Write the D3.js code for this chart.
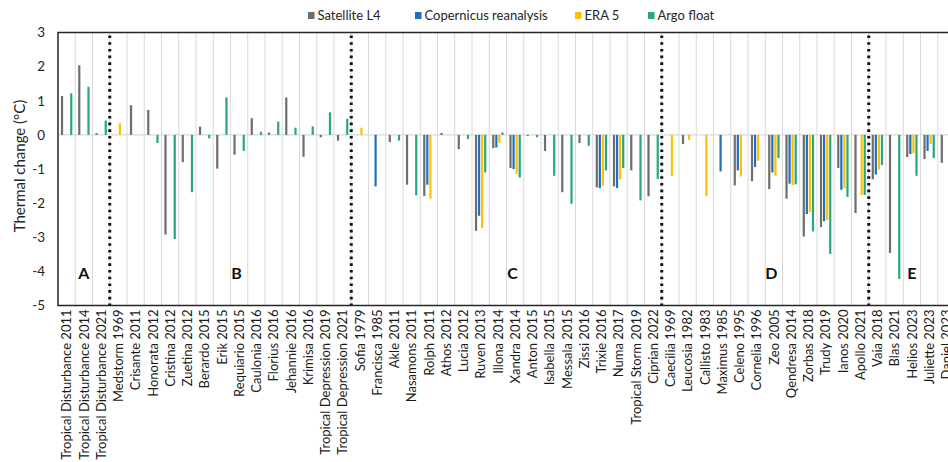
<!DOCTYPE html>
<html>
<head>
<meta charset="utf-8">
<script src="https://cdn.jsdelivr.net/npm/d3@7"></script>
<style>
  html, body { margin: 0; padding: 0; background: #fff; }
  svg { display: block; font-family: Lato, "Open Sans", sans-serif; }
</style>
</head>
<body>
<svg id="chart" width="948" height="462"></svg>
<script>
// Storm events, grouped by region (A–E)
const categories = [
  "Tropical Disturbance 2011", "Tropical Disturbance 2014", "Tropical Disturbance 2021",
  "Medstorm 1969", "Crisante 2011", "Honorata 2012", "Cristina 2012", "Zuetina 2012",
  "Berardo 2015", "Erik 2015", "Requiario 2015", "Caulonia 2016", "Florius 2016",
  "Jehannie 2016", "Krimisa 2016", "Tropical Depression 2019", "Tropical Depression 2021",
  "Sofia 1979", "Francisca 1985", "Akle 2011", "Nasamons 2011", "Rolph 2011", "Athos 2012",
  "Lucia 2012", "Ruven 2013", "Illona 2014", "Xandra 2014", "Anton 2015", "Isabella 2015",
  "Messala 2015", "Zissi 2016", "Trixie 2016", "Numa 2017", "Tropical Storm 2019", "Ciprian 2022",
  "Caecilia 1969", "Leucosia 1982", "Callisto 1983", "Maximus 1985", "Celeno 1995",
  "Cornelia 1996", "Zeo 2005", "Qendresa 2014", "Zorbas 2018", "Trudy 2019", "Ianos 2020",
  "Apollo 2021",
  "Vaia 2018", "Blas 2021", "Helios 2023", "Juliette 2023", "Daniel 2023"
];

// Thermal change (°C) per data source; null = no value for that event
const satelliteL4 = [
  1.14, 2.04, 0.05,
  null, 0.87, 0.73, -2.92, -0.80, 0.24, -0.99, -0.58, 0.49, 0.07, 1.10, -0.64, -0.07, -0.17,
  null, null, -0.21, -1.46, -1.79, 0.06, -0.42, -2.81, -0.39, -0.97, -0.03, -0.47, -1.68, -0.24, -1.54, -1.51, -1.04, -1.80,
  null, -0.27, null, null, -1.48, -1.36, -1.59, -1.87, -2.98, -2.70, -0.97, -2.29,
  -1.30, -3.46, -0.65, -0.71, -0.82
];
const copernicus = [
  null, null, null,
  null, null, null, null, null, null, null, null, null, null, null, null, null, null,
  null, -1.51, null, null, -1.46, null, null, -2.37, -0.37, -1.00, null, null, null, null, -1.56, -1.56, null, null,
  null, null, null, -1.07, -1.04, -0.94, -1.10, -1.43, -2.32, -2.53, -1.61, null,
  -1.16, null, -0.56, -0.47, null
];
const era5 = [
  null, null, null,
  0.34, null, null, null, null, null, null, null, null, null, null, null, null, null,
  0.21, null, null, null, -1.87, null, null, -2.73, -0.24, -1.14, null, null, null, null, -1.49, -1.30, null, null,
  -1.20, -0.15, -1.80, null, -1.22, -0.76, -1.20, -1.48, -2.26, -2.49, -1.56, -1.76,
  -1.02, null, -0.54, -0.27, null
];
const argoFloat = [
  1.22, 1.41, 0.42,
  null, null, -0.24, -3.05, -1.68, -0.10, 1.10, -0.47, 0.09, 0.39, 0.21, 0.25, 0.66, 0.47,
  null, null, -0.17, -1.77, null, null, -0.12, -1.10, 0.07, -1.25, -0.07, -1.20, -2.02, -0.32, -1.04, -0.97, -1.92, -1.29,
  null, null, null, null, null, null, -0.68, -1.45, -2.83, -3.49, -1.82, -1.76,
  -0.88, -4.22, -1.20, -0.68, null
];

const seriesNames = ["Satellite L4", "Copernicus reanalysis", "ERA 5", "Argo float"];
const seriesValues = [satelliteL4, copernicus, era5, argoFloat];
const seriesColors = ["#6e6e6e", "#1f6fc0", "#ffc000", "#27a87b"];

// Regions: letter, first and last event of each group
const sectionLabels = ["A", "B", "C", "D", "E"];
const sectionStarts = ["Tropical Disturbance 2011", "Medstorm 1969", "Sofia 1979", "Caecilia 1969", "Vaia 2018"];
const sectionEnds = ["Tropical Disturbance 2021", "Tropical Depression 2021", "Ciprian 2022", "Apollo 2021", "Daniel 2023"];

const yTicks = [3, 2, 1, 0, -1, -2, -3, -4, -5];

const svg = d3.select("#chart");
const plot = { left: 58, top: 32.5, bottom: 305.5, step: 17.25 };
plot.right = plot.left + categories.length * plot.step;

const x = d3.scaleBand().domain(categories).range([plot.left, plot.right]).padding(0);
const xs = d3.scaleBand().domain(seriesNames).range([0, x.bandwidth()])
  .paddingInner(0.28).paddingOuter(0.95);
const y = d3.scaleLinear().domain([-5, 3]).range([plot.bottom, plot.top]);

// vertical gridlines between categories
svg.append("g")
  .selectAll("line")
  .data(categories.slice(1))
  .join("line")
  .attr("x1", d => x(d)).attr("x2", d => x(d))
  .attr("y1", plot.top).attr("y2", plot.bottom)
  .attr("stroke", "#d9d9d9").attr("stroke-width", 1);

// zero baseline
svg.append("line")
  .attr("x1", plot.left).attr("x2", plot.right)
  .attr("y1", y(0)).attr("y2", y(0))
  .attr("stroke", "#d9d9d9").attr("stroke-width", 1.2);

// bars
const groups = svg.append("g")
  .selectAll("g")
  .data(seriesNames)
  .join("g")
  .attr("fill", (d, i) => seriesColors[i]);

groups.selectAll("rect")
  .data((s, si) => categories.map((c, ci) => ({ c, s, v: seriesValues[si][ci] })).filter(d => d.v !== null))
  .join("rect")
  .attr("x", d => x(d.c) + xs(d.s))
  .attr("width", xs.bandwidth())
  .attr("y", d => y(Math.max(0, d.v)))
  .attr("height", d => Math.abs(y(d.v) - y(0)));

// dotted separators between regions
svg.append("g")
  .selectAll("line")
  .data(sectionStarts.slice(1))
  .join("line")
  .attr("x1", d => x(d)).attr("x2", d => x(d))
  .attr("y1", plot.top + 3).attr("y2", plot.bottom)
  .attr("stroke", "#111").attr("stroke-width", 3)
  .attr("stroke-dasharray", "2.6 4.1");

// plot frame (top, left, bottom)
svg.append("path")
  .attr("d", `M${plot.right},${plot.top}H${plot.left}V${plot.bottom}H${plot.right}`)
  .attr("fill", "none").attr("stroke", "#262626").attr("stroke-width", 1.5);

// region letters
svg.append("g")
  .selectAll("text")
  .data(sectionLabels)
  .join("text")
  .attr("x", (d, i) => (x(sectionStarts[i]) + x(sectionEnds[i]) + x.bandwidth()) / 2 + (i > 0 && i < 4 ? 6 : 0))
  .attr("y", 279)
  .attr("text-anchor", "middle")
  .attr("font-size", 16).attr("font-weight", 700).attr("fill", "#111")
  .text(d => d);

// y axis
const yAxis = svg.append("g")
  .attr("transform", `translate(${plot.left},0)`)
  .call(d3.axisLeft(y).tickValues(yTicks).tickSize(0).tickPadding(13).tickFormat(d => String(d)));
yAxis.select(".domain").remove();
yAxis.selectAll("text").attr("font-size", 13.5).attr("fill", "#262626")
  .attr("font-family", "Lato, sans-serif");

svg.append("text")
  .attr("transform", `translate(20,${(plot.top + plot.bottom) / 2 - 3}) rotate(-90)`)
  .attr("text-anchor", "middle")
  .attr("dy", "0.35em")
  .attr("font-size", 15).attr("fill", "#262626")
  .text("Thermal change (°C)");

// x axis labels, rotated
const xAxis = svg.append("g")
  .attr("transform", `translate(0,${plot.bottom})`)
  .call(d3.axisBottom(x).tickSize(0).tickPadding(4));
xAxis.select(".domain").remove();
xAxis.selectAll("text")
  .attr("transform", "rotate(-90)")
  .attr("text-anchor", "end")
  .attr("x", -4).attr("y", 0).attr("dy", "0.36em")
  .attr("font-size", 13).attr("fill", "#1a1a1a")
  .attr("font-family", "Lato, sans-serif");

// legend
const legendX = [308, 415, 575, 648];
const legend = svg.append("g")
  .selectAll("g")
  .data(seriesNames)
  .join("g")
  .attr("transform", (d, i) => `translate(${legendX[i]},15.5)`);
legend.append("rect")
  .attr("x", 0).attr("y", -3.5).attr("width", 6.5).attr("height", 7)
  .attr("fill", (d, i) => seriesColors[i]);
legend.append("text")
  .attr("x", 9.5).attr("dy", "0.35em")
  .attr("font-size", 13).attr("fill", "#262626")
  .text(d => d);
</script>
</body>
</html>
